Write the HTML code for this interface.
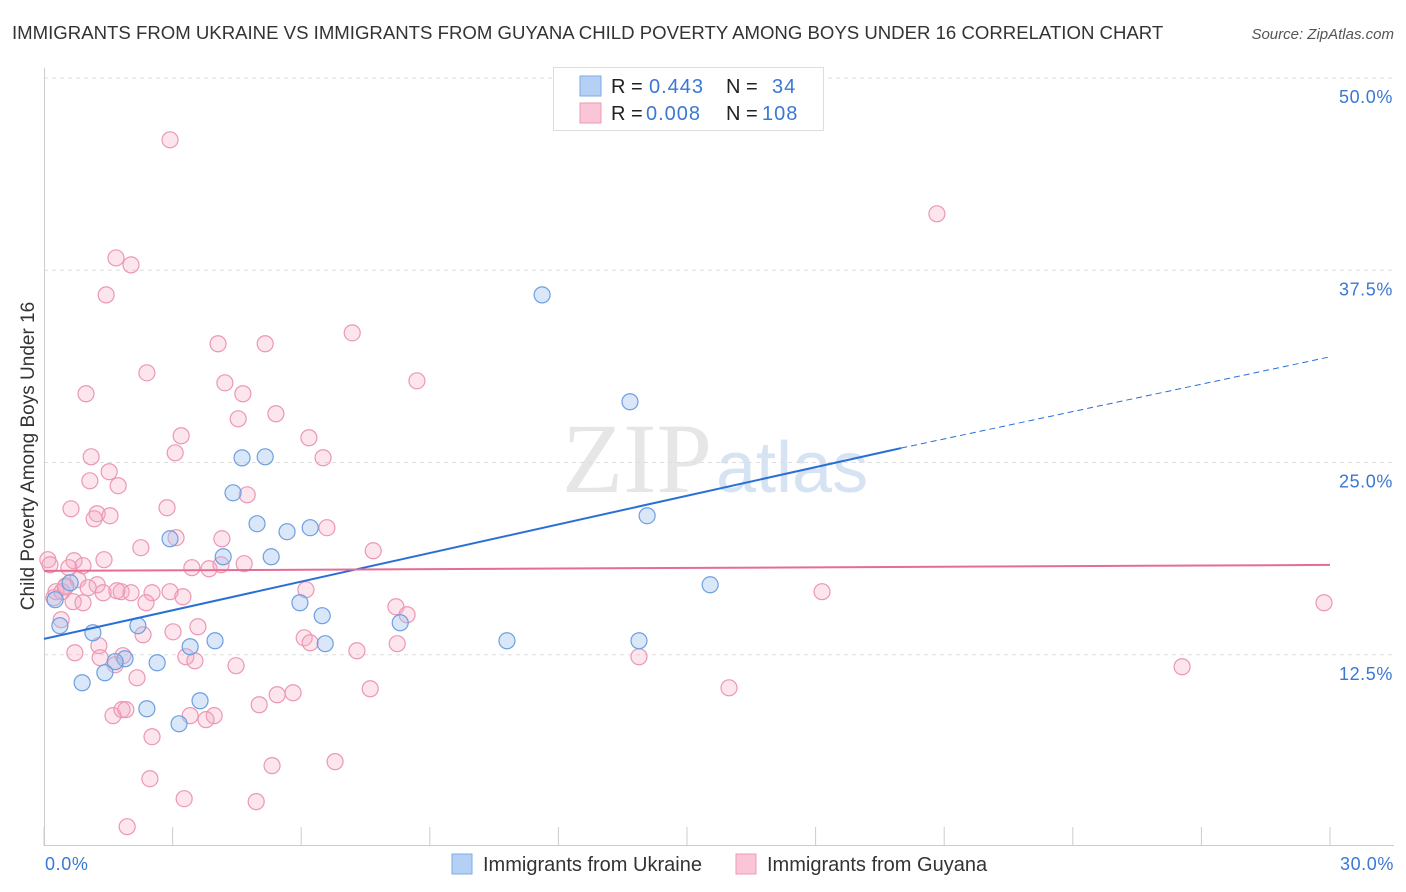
<!DOCTYPE html>
<html><head><meta charset="utf-8"><style>
body{margin:0;background:#fff;font-family:"Liberation Sans",sans-serif;}
svg{display:block}
</style></head><body>
<svg id="chart" width="1406" height="892">
<text x="12" y="39" font-size="18.6" fill="#333">IMMIGRANTS FROM UKRAINE VS IMMIGRANTS FROM GUYANA CHILD POVERTY AMONG BOYS UNDER 16 CORRELATION CHART</text>
<text x="1394" y="39" font-size="15" fill="#555" font-style="italic" text-anchor="end">Source: ZipAtlas.com</text>
<text x="712" y="492" font-size="100" fill="#e6e6e6" text-anchor="end" font-family="Liberation Serif,serif">ZIP</text>
<text x="716" y="492" font-size="72" fill="#d5e3f3">atlas</text>
<g id="grid"></g><g id="pts"></g><g id="trends"></g>
<text x="34" y="456" font-size="19" fill="#333" text-anchor="middle" transform="rotate(-90 34 456)">Child Poverty Among Boys Under 16</text>
<text x="45" y="870" font-size="18" letter-spacing="0.6" fill="#3a78d4">0.0%</text>
<text x="1394" y="870" font-size="18" letter-spacing="0.6" fill="#3a78d4" text-anchor="end">30.0%</text>
<g>
<rect x="553.5" y="67.5" width="270" height="63" fill="#fff" stroke="#ddd"/>
<rect x="580" y="76" width="21" height="20" fill="#b5d0f5" stroke="#7ea9e6"/>
<rect x="580" y="103" width="21" height="20" fill="#fac5d6" stroke="#ee9ab5"/>
<text x="611" y="93" font-size="20" fill="#222">R =<tspan x="649" fill="#3a78d4" letter-spacing="1">0.443</tspan><tspan x="726">N =</tspan><tspan x="772" fill="#3a78d4" letter-spacing="1">34</tspan></text>
<text x="611" y="120" font-size="20" fill="#222">R =<tspan x="646" fill="#3a78d4" letter-spacing="1">0.008</tspan><tspan x="726">N =</tspan><tspan x="762" fill="#3a78d4" letter-spacing="1">108</tspan></text>
</g>
<g>
<rect x="452" y="854" width="20" height="20" fill="#b5d0f5" stroke="#7ea9e6"/>
<text x="483" y="871" font-size="20" fill="#333">Immigrants from Ukraine</text>
<rect x="736" y="854" width="20" height="20" fill="#fac5d6" stroke="#ee9ab5"/>
<text x="767" y="871" font-size="20" fill="#333">Immigrants from Guyana</text>
</g>
</svg>
<script>
const yTicks=[12.5,25,37.5,50];
const yTickLabels=["12.5%","25.0%","37.5%","50.0%"];
const blueX=[11.62,13.67,14.07,15.54,10.80,13.88,4.62,5.16,4.41,4.97,6.21,5.67,5.30,4.18,2.94,5.97,6.49,6.56,8.31,1.14,2.19,0.37,1.89,2.64,1.66,1.42,0.89,3.41,3.99,3.64,2.40,3.15,0.26,0.61];
const blueY=[35.9,28.95,21.54,17.05,13.41,13.41,25.3,25.37,23.03,21.02,20.76,20.5,18.87,18.87,20.04,15.88,15.04,13.22,14.58,13.93,14.39,14.39,12.24,11.98,12.05,11.33,10.68,13.02,13.41,9.51,8.99,8.01,16.08,17.18];
const pinkX=[2.94,20.83,1.68,2.03,1.45,7.19,4.06,5.16,2.40,8.70,4.22,0.98,4.64,5.41,4.53,3.20,6.18,3.06,1.10,6.51,1.52,1.07,1.73,4.74,0.63,2.87,1.24,1.54,1.17,6.60,3.08,4.15,2.26,7.68,0.09,1.40,0.70,0.14,4.67,0.91,3.85,3.45,0.58,4.13,6.11,18.15,29.86,0.79,1.24,0.51,1.03,1.80,2.03,2.52,2.94,1.38,1.70,3.24,0.28,0.42,0.23,0.68,0.91,2.38,8.21,8.47,0.40,2.31,3.01,3.59,6.07,6.21,8.24,1.28,7.30,0.72,1.31,3.31,1.84,3.52,13.88,1.66,4.48,26.55,2.17,15.98,7.61,5.81,5.44,5.02,3.41,1.61,3.97,1.82,1.91,3.78,2.52,5.32,6.79,2.47,3.27,4.95,1.94,0.5];
const pinkY=[45.98,41.17,38.3,37.85,35.9,33.43,32.72,32.72,30.83,30.31,30.18,29.47,29.47,28.17,27.84,26.74,26.61,25.63,25.37,25.31,24.4,23.81,23.49,22.9,21.99,22.06,21.67,21.54,21.34,20.76,20.11,20.04,19.46,19.26,18.68,18.68,18.61,18.35,18.42,18.29,18.09,18.16,18.16,18.35,16.73,16.6,15.88,17.38,17.05,16.99,16.86,16.6,16.53,16.53,16.6,16.53,16.66,16.27,16.6,16.6,16.21,15.95,15.88,15.88,15.62,15.1,14.78,13.8,13.99,14.32,13.6,13.28,13.22,13.09,12.76,12.63,12.31,12.37,12.44,12.11,12.37,11.85,11.79,11.72,11.0,10.35,10.29,10.03,9.9,9.25,8.54,8.54,8.54,8.93,8.93,8.28,7.17,5.29,5.55,4.44,3.14,2.95,1.32,16.9];
const blueTrend=[[0,13.53],[20.0,25.94],[30,31.87]];
const pinkTrend=[[0,17.95],[30,18.34]];
const xTicks=[0,3,6,9,12,15,18,21,24,27,30];
const NS="http://www.w3.org/2000/svg";
const X=v=>44+v*1286/30, Y=v=>847-v*15.38;
function mk(t,a,p){const e=document.createElementNS(NS,t);for(const k in a)e.setAttribute(k,a[k]);p.appendChild(e);return e;}
const grid=document.getElementById('grid');
yTicks.forEach((t,i)=>{
 const l=mk('line',{x1:44,x2:1394,y1:Y(t),y2:Y(t),stroke:'#ddd','stroke-dasharray':'4,4'},grid);
 
 
 const tx=mk('text',{x:1393,y:Y(t)+25,'font-size':18,'letter-spacing':0.6,fill:'#3a78d4','text-anchor':'end'},grid);
 tx.textContent=yTickLabels[i];
 
 
});
const ax=mk('line',{x1:44,x2:1394,y1:845.5,y2:845.5,stroke:'#ccc'},grid);


const ay=mk('line',{x1:44.5,x2:44.5,y1:68,y2:846,stroke:'#ccc'},grid);


xTicks.forEach(t=>{const l=mk('line',{x1:X(t),x2:X(t),y1:827,y2:846,stroke:'#ccc'},grid);
 
 });
const pts=document.getElementById('pts');
pinkX.forEach((x,i)=>{const c=mk('circle',{cx:X(x),cy:Y(pinkY[i]),r:8,fill:'rgba(246,170,196,0.3)',stroke:'#ec97b3','stroke-width':1.2},pts);
 
 });
blueX.forEach((x,i)=>{const c=mk('circle',{cx:X(x),cy:Y(blueY[i]),r:8,fill:'rgba(160,195,240,0.4)',stroke:'#6d9fe0','stroke-width':1.2},pts);
 
 });
const tr=document.getElementById('trends');
const b1=mk('line',{x1:X(blueTrend[0][0]),y1:Y(blueTrend[0][1]),x2:X(blueTrend[1][0]),y2:Y(blueTrend[1][1]),stroke:'#2a6fd6','stroke-width':2},tr);


const b2=mk('line',{x1:X(blueTrend[1][0]),y1:Y(blueTrend[1][1]),x2:X(blueTrend[2][0]),y2:Y(blueTrend[2][1]),stroke:'#2a6fd6','stroke-width':1,'stroke-dasharray':'6,4'},tr);


const p1=mk('line',{x1:X(pinkTrend[0][0]),y1:Y(pinkTrend[0][1]),x2:X(pinkTrend[1][0]),y2:Y(pinkTrend[1][1]),stroke:'#e66c95','stroke-width':2},tr);


</script>
</body></html>
